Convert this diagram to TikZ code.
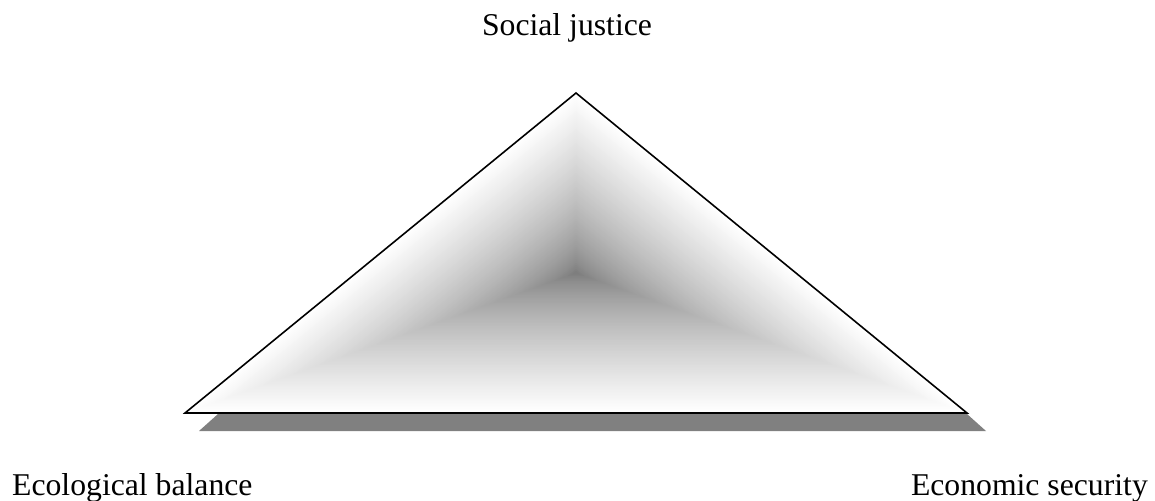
\documentclass[tikz,border=0pt]{standalone}
\usepackage{fontspec}
\setmainfont{Liberation Serif}
\usetikzlibrary{calc}
\definecolor{shadowgray}{RGB}{128,128,128}
\begin{document}
\begin{tikzpicture}[x=1pt,y=-1pt,
  lbl/.style={font=\fontsize{31.7}{36}\selectfont, inner sep=0pt},
  edge/.style={line width=1.6pt, line join=miter}]
\useasboundingbox (0,0) rectangle (1155,500);
\coordinate (A) at (576,93);
\coordinate (B) at (185,413);
\coordinate (C) at (967,413);
\coordinate (I) at (576,273);
% shadow
\fill[shadowgray] (218,414) -- (967,414) -- (986,431) -- (199,431) -- cycle;
% path gradient (from centre)
\foreach \i in {0,...,89}{
  \pgfmathsetmacro\s{1-\i/90}
  \pgfmathsetmacro\w{47+53*\s^0.7}
  \fill[white!\w!black] ($(I)!\s!(A)$) -- ($(I)!\s!(B)$) -- ($(I)!\s!(C)$) -- cycle;
}
\draw[edge] (A) -- (B) -- (C) -- cycle;
\node[lbl, anchor=base] (sj) at (567,36) {Social justice};
\node[lbl, anchor=base west] (eb) at (12,495) {Ecological balance};
\node[lbl, anchor=base east] (es) at (1148,495) {Economic security};
\end{tikzpicture}
\end{document}
